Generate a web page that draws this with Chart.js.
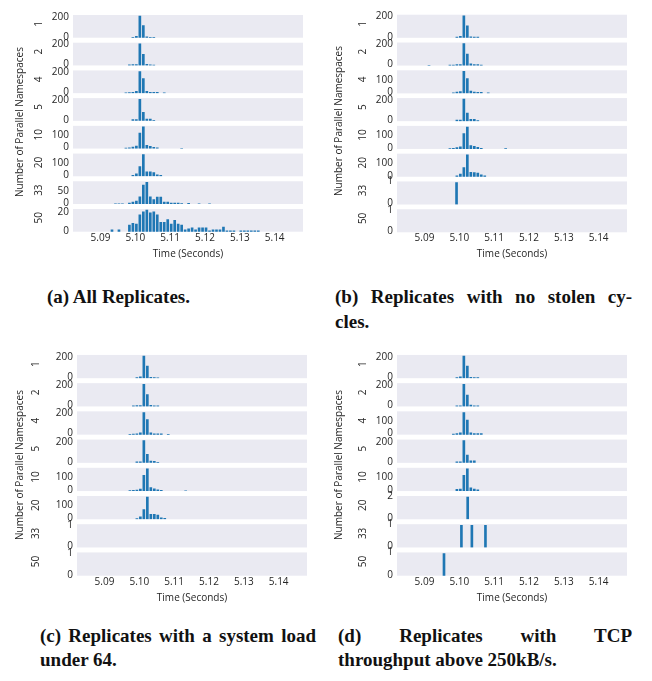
<!DOCTYPE html>
<html>
<head>
<meta charset="utf-8">
<script src="https://cdn.jsdelivr.net/npm/chart.js@4.4.0/dist/chart.umd.min.js"></script>
<style>
  body { margin: 0; background: #fff; width: 652px; height: 681px; position: relative; overflow: hidden; }
  canvas { position: absolute; }
  .cap { position: absolute; font-family: 'Liberation Serif', serif; font-weight: bold; font-size: 19px; line-height: 20px; color: #111; white-space: nowrap; }
  .just { white-space: normal; text-align: justify; text-align-last: justify; }
</style>
</head>
<body>
<canvas id="panel-a" width="326" height="270" style="left:0px;top:0px"></canvas>
<canvas id="panel-b" width="326" height="270" style="left:326px;top:0px"></canvas>
<canvas id="panel-c" width="326" height="270" style="left:0px;top:340px"></canvas>
<canvas id="panel-d" width="326" height="270" style="left:326px;top:340px"></canvas>

<div class="cap" style="left:47px;top:287px">(a) All Replicates.</div>
<div class="cap just" style="left:335px;top:287px;width:297px">(b) Replicates with no stolen cy-</div>
<div class="cap" style="left:335px;top:312px">cles.</div>
<div class="cap just" style="left:40px;top:626px;width:276px">(c) Replicates with a system load</div>
<div class="cap" style="left:40px;top:650px">under 64.</div>
<div class="cap just" style="left:338px;top:626px;width:294px">(d) Replicates with TCP</div>
<div class="cap" style="left:338px;top:650px">throughput above 250kB/s.</div>

<script>
const namespaces = ['1', '2', '4', '5', '10', '20', '33', '50'];
const timeTicks = [5.09, 5.10, 5.11, 5.12, 5.13, 5.14];
const timeMin = 5.08761;
const timeMax = 5.14263;

// [time (s), number of replicates] per row
const allReplicates = [
    [[5.0993, 5], [5.1003, 15], [5.1013, 218], [5.1023, 122], [5.1033, 8], [5.1043, 5], [5.1053, 4]],
    [[5.0983, 6], [5.0993, 8], [5.1003, 8], [5.1013, 218], [5.1023, 112], [5.1033, 12], [5.1043, 5], [5.1053, 4]],
    [[5.0973, 3], [5.0983, 6], [5.0993, 8], [5.1003, 18], [5.1013, 212], [5.1023, 142], [5.1033, 18], [5.1043, 8], [5.1053, 8], [5.1063, 8], [5.1083, 3]],
    [[5.0993, 12], [5.1003, 12], [5.1013, 216], [5.1023, 84], [5.1033, 18], [5.1043, 18], [5.1053, 5]],
    [[5.0973, 3], [5.0983, 5], [5.0993, 12], [5.1003, 20], [5.1013, 120], [5.1023, 168], [5.1033, 25], [5.1043, 17], [5.1053, 10], [5.1063, 5], [5.1133, 2]],
    [[5.0993, 7], [5.1003, 20], [5.1013, 77], [5.1023, 173], [5.1033, 36], [5.1043, 35], [5.1053, 30], [5.1063, 12], [5.1073, 7]],
    [[5.0943, 1], [5.0953, 1], [5.0963, 1], [5.0983, 4], [5.0993, 8], [5.1003, 12], [5.1013, 31], [5.1023, 81], [5.1033, 93], [5.1043, 31],
     [5.1053, 19], [5.1063, 30], [5.1073, 30], [5.1083, 8], [5.1093, 8], [5.1103, 4], [5.1113, 4], [5.1123, 4], [5.1133, 2], [5.1153, 3],
     [5.1183, 1], [5.1213, 1]],
    [[5.0933, 2], [5.0953, 2], [5.0983, 7], [5.0993, 9], [5.1003, 8], [5.1013, 18], [5.1023, 21], [5.1033, 23], [5.1043, 20], [5.1053, 21],
     [5.1063, 18], [5.1073, 10], [5.1083, 10], [5.1093, 13], [5.1103, 8], [5.1113, 12], [5.1123, 8], [5.1133, 7], [5.1143, 2], [5.1153, 3],
     [5.1163, 4], [5.1173, 2], [5.1183, 4], [5.1193, 4], [5.1203, 4], [5.1213, 1], [5.1223, 2], [5.1233, 2], [5.1243, 2], [5.1253, 5],
     [5.1263, 1], [5.1273, 1], [5.1283, 1], [5.1303, 1], [5.1313, 1], [5.1323, 1], [5.1333, 1], [5.1343, 1], [5.1353, 1]]
];

const noStolenCycles = [
    [[5.0993, 6], [5.1003, 13], [5.1013, 213], [5.1023, 116], [5.1033, 9], [5.1043, 6], [5.1053, 6]],
    [[5.0913, 3], [5.0973, 6], [5.0983, 6], [5.0993, 9], [5.1003, 9], [5.1013, 215], [5.1023, 112], [5.1033, 16], [5.1043, 9], [5.1053, 9], [5.1063, 6]],
    [[5.0983, 5], [5.0993, 11], [5.1003, 16], [5.1013, 185], [5.1023, 125], [5.1033, 19], [5.1043, 11], [5.1053, 8], [5.1063, 8], [5.1083, 5]],
    [[5.0993, 10], [5.1003, 10], [5.1013, 220], [5.1023, 81], [5.1033, 19], [5.1043, 19], [5.1053, 6]],
    [[5.0973, 3], [5.0983, 5], [5.0993, 10], [5.1003, 16], [5.1013, 124], [5.1023, 176], [5.1033, 26], [5.1043, 21], [5.1053, 13], [5.1063, 5], [5.1133, 3]],
    [[5.0993, 8], [5.1003, 21], [5.1013, 74], [5.1023, 180], [5.1033, 37], [5.1043, 34], [5.1053, 29], [5.1063, 16], [5.1073, 8]],
    [[5.0992, 1]],
    []
];

const loadUnder64 = [
    [[5.0993, 6], [5.1003, 13], [5.1013, 220], [5.1023, 120], [5.1033, 9], [5.1043, 6], [5.1053, 5]],
    [[5.0983, 6], [5.0993, 8], [5.1003, 8], [5.1013, 222], [5.1023, 118], [5.1033, 12], [5.1043, 6], [5.1053, 6]],
    [[5.0973, 3], [5.0983, 6], [5.0993, 8], [5.1003, 18], [5.1013, 218], [5.1023, 147], [5.1033, 18], [5.1043, 9], [5.1053, 8], [5.1063, 8], [5.1083, 3]],
    [[5.0993, 9], [5.1003, 9], [5.1013, 222], [5.1023, 85], [5.1033, 18], [5.1043, 16], [5.1053, 5]],
    [[5.0973, 3], [5.0983, 5], [5.0993, 8], [5.1003, 16], [5.1013, 120], [5.1023, 170], [5.1033, 26], [5.1043, 18], [5.1053, 10], [5.1063, 6], [5.1133, 2]],
    [[5.0993, 5], [5.1003, 18], [5.1013, 75], [5.1023, 170], [5.1033, 37], [5.1043, 37], [5.1053, 32], [5.1063, 12], [5.1073, 7]],
    [],
    []
];

const tcpAbove250 = [
    [[5.0993, 6], [5.1003, 13], [5.1013, 222], [5.1023, 121], [5.1033, 10], [5.1043, 6], [5.1053, 6]],
    [[5.0993, 6], [5.1003, 6], [5.1013, 222], [5.1023, 114], [5.1033, 13], [5.1043, 6], [5.1053, 6]],
    [[5.0983, 5], [5.0993, 8], [5.1003, 16], [5.1013, 185], [5.1023, 122], [5.1033, 16], [5.1043, 8], [5.1053, 8], [5.1063, 8]],
    [[5.0993, 10], [5.1003, 10], [5.1013, 222], [5.1023, 78], [5.1033, 20], [5.1043, 20]],
    [[5.0993, 13], [5.1003, 16], [5.1013, 124], [5.1023, 175], [5.1033, 26], [5.1043, 15], [5.1053, 10]],
    [[5.1024, 2]],
    [[5.1006, 1], [5.1036, 1], [5.1075, 1]],
    [[5.0956, 1]]
];

// upper y tick of each row
const yTicksA = [200, 200, 200, 200, 100, 100, 50, 20];
const yTicksB = [200, 200, 100, 200, 100, 100, 1, 1];
const yTicksC = [200, 200, 200, 200, 100, 100, 1, 1];
const yTicksD = [200, 200, 100, 200, 100, 2, 1, 1];

const TEXT = '#262626';
const FONT = { family: "'Open Sans', sans-serif", size: 10 };

const panels = [
    { id: 'panel-a', rows: allReplicates, ticks: yTicksA, axisW: 40, gapFrac: 0.18, labelX: 20, labelY: 122,
      pad: { left: 33, right: 23, top: 4.2, bottom: 10.3 } },
    { id: 'panel-b', rows: noStolenCycles, ticks: yTicksB, axisW: 40, gapFrac: 0.17, labelX: 13, labelY: 121,
      pad: { left: 31, right: 25, top: 1.8, bottom: 9.7 } },
    { id: 'panel-c', rows: loadUnder64, ticks: yTicksC, axisW: 47, gapFrac: 0.175, labelX: 20, labelY: 125,
      pad: { left: 30, right: 19, top: 7.3, bottom: 6.3 } },
    { id: 'panel-d', rows: tcpAbove250, ticks: yTicksD, axisW: 40, gapFrac: 0.175, labelX: 13, labelY: 125,
      pad: { left: 31, right: 25, top: 7.3, bottom: 6.3 } }
];

// grey facet backgrounds with a white gap above each row, plus the shared y label
const facetPlugin = {
    id: 'facets',
    beforeDraw: function (chart, args, opts) {
        const ctx = chart.ctx;
        const area = chart.chartArea;
        ctx.save();
        ctx.fillStyle = '#eaeaf2';
        Object.values(chart.scales).forEach(function (s) {
            if (s.axis !== 'y') return;
            const top = s.top + (s.bottom - s.top) * opts.gapFrac;
            ctx.fillRect(area.left, top, area.right - area.left, s.bottom - top);
        });
        ctx.restore();
    },
    afterDraw: function (chart, args, opts) {
        const ctx = chart.ctx;
        ctx.save();
        ctx.translate(opts.labelX, opts.labelY);
        ctx.rotate(-Math.PI / 2);
        ctx.font = FONT.size + 'px ' + FONT.family;
        ctx.fillStyle = TEXT;
        ctx.textAlign = 'center';
        ctx.textBaseline = 'middle';
        ctx.fillText('Number of Parallel Namespaces', 0, 0);
        ctx.restore();
    }
};

function buildPanel(p) {
    const scales = {};
    const datasets = [];

    // stacked left axes are laid out bottom-up, so add the last row first
    for (let i = p.rows.length - 1; i >= 0; i--) {
        const row = p.rows[i];
        const rowMax = row.length ? Math.max.apply(null, row.map(function (d) { return d[1]; })) : 0;
        const top = rowMax ? rowMax * 1.05 : 1.1;
        const tick = p.ticks[i];
        scales['y' + i] = {
            type: 'linear',
            position: 'left',
            stack: 'rows',
            stackWeight: 1,
            min: 0,
            max: top / (1 - p.gapFrac),
            afterBuildTicks: function (s) { s.ticks = [{ value: 0 }, { value: tick }]; },
            afterFit: function (s) { s.width = p.axisW; },
            grid: { display: false, drawTicks: false },
            border: { display: false },
            ticks: { autoSkip: false, padding: 4, labelOffset: -1, color: TEXT, font: FONT, callback: function (v) { return String(v); } },
            title: { display: true, text: namespaces[i], padding: 0, color: TEXT, font: FONT }
        };
        datasets.push({
            data: row.map(function (d) { return { x: d[0], y: d[1] }; }),
            yAxisID: 'y' + i,
            backgroundColor: '#1f77b4',
            barThickness: 2,
            grouped: false
        });
    }

    scales.x = {
        type: 'linear',
        min: timeMin,
        max: timeMax,
        afterBuildTicks: function (s) { s.ticks = timeTicks.map(function (v) { return { value: v }; }); },
        afterFit: function (s) { s.height = 28; },
        grid: { display: false, drawTicks: false },
        border: { display: false },
        ticks: { autoSkip: false, maxRotation: 0, padding: 0, color: TEXT, font: FONT, callback: function (v) { return v.toFixed(2); } },
        title: { display: true, text: 'Time (Seconds)', padding: 0, color: TEXT, font: FONT }
    };

    new Chart(document.getElementById(p.id), {
        type: 'bar',
        data: { datasets: datasets },
        options: {
            responsive: false,
            animation: false,
            devicePixelRatio: 1,
            layout: { padding: p.pad },
            scales: scales,
            plugins: {
                legend: { display: false },
                tooltip: { enabled: false },
                facets: { gapFrac: p.gapFrac, labelX: p.labelX, labelY: p.labelY }
            }
        },
        plugins: [facetPlugin]
    });
}

panels.forEach(buildPanel);
</script>
</body>
</html>
